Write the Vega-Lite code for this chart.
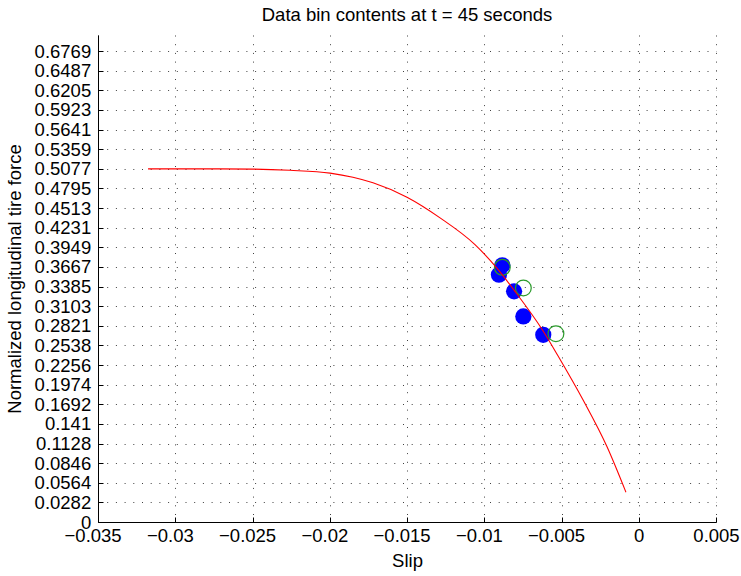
{
  "$schema": "https://vega.github.io/schema/vega-lite/v6.json",
  "width": 618,
  "height": 487,
  "autosize": {"type": "none"},
  "padding": {"left": 98, "top": 35, "right": 25, "bottom": 54},
  "background": "white",
  "title": {
    "text": "Data bin contents at t = 45 seconds",
    "font": "Liberation Sans",
    "fontSize": 18.5,
    "fontWeight": "normal",
    "color": "#000000",
    "anchor": "middle",
    "baseline": "alphabetic",
    "offset": 14,
    "dy": 18.7
  },
  "datasets": {
    "curve": [
      {"slip": -0.03176, "force": 0.50763},
      {"slip": -0.0284, "force": 0.50762},
      {"slip": -0.02503, "force": 0.50725},
      {"slip": -0.02257, "force": 0.5055},
      {"slip": -0.01998, "force": 0.5015},
      {"slip": -0.0185, "force": 0.4955},
      {"slip": -0.0172, "force": 0.48748},
      {"slip": -0.015, "force": 0.46675},
      {"slip": -0.01286, "force": 0.4371},
      {"slip": -0.0106, "force": 0.39868},
      {"slip": -0.00918, "force": 0.36485},
      {"slip": -0.00807, "force": 0.33319},
      {"slip": -0.0062, "force": 0.2749},
      {"slip": -0.00523, "force": 0.23892},
      {"slip": -0.00361, "force": 0.17559},
      {"slip": -0.00206, "force": 0.10838},
      {"slip": -0.00083, "force": 0.04275}
    ],
    "bins": [
      {"slip": -0.00883, "force": 0.3689},
      {"slip": -0.00905, "force": 0.3555},
      {"slip": -0.00807, "force": 0.3315},
      {"slip": -0.00747, "force": 0.2955},
      {"slip": -0.00618, "force": 0.2691}
    ],
    "estimates": [
      {"slip": -0.00883, "force": 0.366},
      {"slip": -0.00747, "force": 0.3364},
      {"slip": -0.00536, "force": 0.2706}
    ]
  },
  "encoding": {
    "x": {
      "field": "slip",
      "type": "quantitative",
      "scale": {"domain": [-0.035, 0.005], "nice": false, "zero": false},
      "axis": {
        "title": "Slip",
        "values": [-0.035, -0.03, -0.025, -0.02, -0.015, -0.01, -0.005, 0, 0.005],
        "format": ".3~f",
        "tickSize": -5,
        "labelPadding": 9.5,
        "labelOffset": {"condition": {"test": "datum.value < 0", "value": -5.4}, "value": 0},
        "titleY": 44.7,
        "titleBaseline": "alphabetic"
      }
    },
    "y": {
      "field": "force",
      "type": "quantitative",
      "scale": {"domain": [0, 0.7], "nice": false, "zero": true},
      "axis": {
        "title": "Normalized longitudinal tire force",
        "values": [0, 0.0282051, 0.0564102, 0.0846153, 0.1128204, 0.1410255, 0.1692306, 0.1974357, 0.2256408, 0.2538459, 0.282051, 0.3102561, 0.3384612, 0.3666663, 0.3948714, 0.4230765, 0.4512816, 0.4794867, 0.5076918, 0.5358969, 0.564102, 0.5923071, 0.6205122, 0.6487173, 0.6769224],
        "format": ".4~f",
        "tickSize": -5,
        "labelPadding": 12.3,
        "titleX": -77.3,
        "titleY": 243.5,
        "titleAngle": -90,
        "titleAlign": "center",
        "titleBaseline": "alphabetic"
      }
    }
  },
  "layer": [
    {
      "data": {"name": "bins"},
      "mark": {"type": "circle", "color": "#0000ff", "opacity": 1, "size": 263}
    },
    {
      "data": {"name": "estimates"},
      "mark": {"type": "point", "shape": "circle", "filled": false, "stroke": "#2a9a2a", "strokeWidth": 1.2, "opacity": 1, "size": 250}
    },
    {
      "data": {"name": "curve"},
      "mark": {"type": "line", "color": "#ff0000", "strokeWidth": 1.1, "interpolate": "monotone"}
    }
  ],
  "config": {
    "view": {"stroke": null},
    "axis": {
      "grid": true,
      "gridColor": "#000000",
      "gridOpacity": 0.75,
      "gridDash": [1, 7.7],
      "gridWidth": 1,
      "domainColor": "#000000",
      "domainWidth": 1,
      "tickColor": "#000000",
      "tickWidth": 1,
      "labelFont": "Liberation Sans",
      "labelFontSize": 18.5,
      "labelColor": "#000000",
      "labelFlush": false,
      "labelOverlap": false,
      "titleFont": "Liberation Sans",
      "titleFontSize": 18.5,
      "titleFontWeight": "normal",
      "titleColor": "#000000"
    }
  }
}
